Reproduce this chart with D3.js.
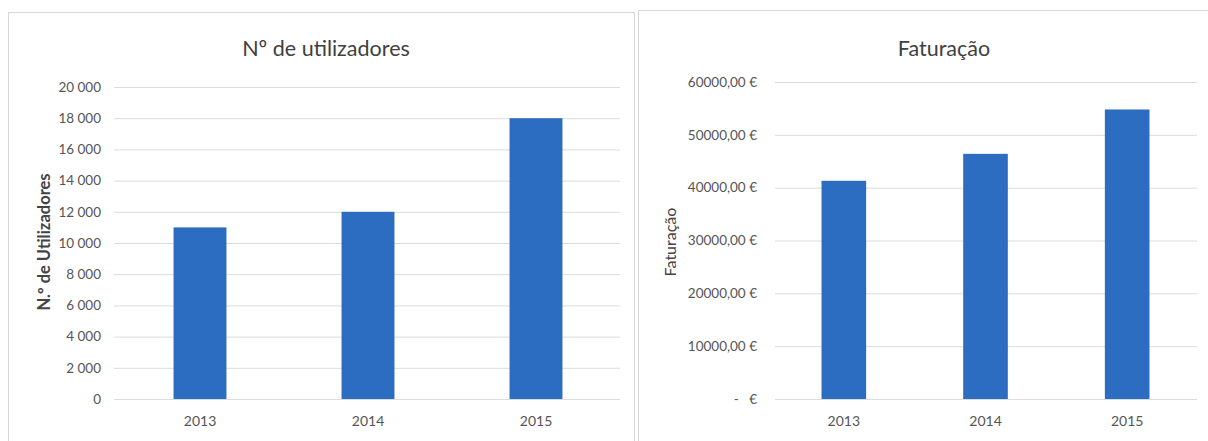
<!DOCTYPE html>
<html>
<head>
<meta charset="utf-8">
<script src="https://cdn.jsdelivr.net/npm/d3@7"></script>
<style>
  html, body { margin: 0; padding: 0; background: #fff; }
  svg { display: block; }
  text { font-family: Lato, "Open Sans", sans-serif; }
</style>
</head>
<body>
<svg id="chart" width="1208" height="441"></svg>
<script>
// Data
const years = ["2013", "2014", "2015"];
const users = [11000, 12000, 18000];
const revenue = [41300, 46400, 54800];
const userTicks = [0, 2000, 4000, 6000, 8000, 10000, 12000, 14000, 16000, 18000, 20000];
const revenueTicks = [0, 10000, 20000, 30000, 40000, 50000, 60000];

const svg = d3.select("#chart");
const barColor = "#2d6dc1";
const gridColor = "#dcdcdc";
const labelColor = "#555";

// Number formats (Portuguese style)
const fmtUsers = v => v === 0 ? "0" : d3.format(",")(v).replace(/,/g, " ");
const fmtEuro = v => v === 0 ? "-   \u20ac" : d3.format(".2f")(v).replace(".", ",") + " \u20ac";

function panel(cfg) {
  const g = svg.append("g");
  // chart frame
  g.append("rect")
    .attr("x", cfg.frame[0]).attr("y", cfg.frame[1])
    .attr("width", cfg.frame[2]).attr("height", cfg.frame[3])
    .attr("fill", "#fff").attr("stroke", "#d6d6d6").attr("stroke-width", 1);

  const x = d3.scaleBand().domain(years).range(cfg.xRange)
    .paddingInner(0.685).paddingOuter(0.3425);
  const y = d3.scaleLinear().domain([0, d3.max(cfg.ticks)]).range([399, cfg.yTop]);

  // gridlines
  g.append("g").selectAll("line").data(cfg.ticks).join("line")
    .attr("x1", cfg.gridX[0]).attr("x2", cfg.gridX[1])
    .attr("y1", d => y(d) + 0.5).attr("y2", d => y(d) + 0.5)
    .attr("stroke", gridColor).attr("stroke-width", 1);

  // y axis labels
  const yAxis = d3.axisLeft(y).tickValues(cfg.ticks).tickFormat(cfg.fmt).tickSize(0).tickPadding(0);
  const ya = g.append("g").attr("transform", `translate(${cfg.labelX},0)`).call(yAxis);
  ya.select(".domain").remove();
  ya.selectAll("text").attr("fill", labelColor).style("font-size", "13.5px")
    .style("font-family", "Lato, sans-serif").style("white-space", "pre");

  // bars
  g.append("g").selectAll("rect").data(cfg.values).join("rect")
    .attr("x", (d, i) => x(years[i]))
    .attr("width", x.bandwidth())
    .attr("y", d => y(d))
    .attr("height", d => y(0) - y(d))
    .attr("fill", barColor);

  // x axis labels
  const xAxis = d3.axisBottom(x).tickSize(0).tickPadding(0);
  const xa = g.append("g").attr("transform", "translate(0,416)").call(xAxis);
  xa.select(".domain").remove();
  xa.selectAll("text").attr("fill", labelColor).style("font-size", "14px")
    .style("font-family", "Lato, sans-serif");

  // title
  g.append("text")
    .attr("x", cfg.titleX).attr("y", 56)
    .attr("text-anchor", "middle")
    .attr("fill", "#404040")
    .style("font-size", "21.5px")
    .text(cfg.title);

  // y axis title
  g.append("text")
    .attr("transform", `translate(${cfg.yTitleX},${cfg.yTitleY}) rotate(-90)`)
    .attr("text-anchor", "middle")
    .attr("fill", "#444")
    .style("font-size", cfg.yTitleSize)
    .style("font-weight", cfg.yTitleWeight)
    .text(cfg.yTitle);
}

panel({
  frame: [8.5, 12.5, 626, 440],
  xRange: [116, 620],
  gridX: [114, 620],
  yTop: 87,
  ticks: userTicks,
  values: users,
  fmt: fmtUsers,
  labelX: 101,
  title: "Nº de utilizadores",
  titleX: 326,
  yTitle: "N.º de Utilizadores",
  yTitleX: 50,
  yTitleY: 242,
  yTitleSize: "16.5px",
  yTitleWeight: "bold"
});

panel({
  frame: [638.5, 10.5, 580, 440],
  xRange: [773, 1198],
  gridX: [775, 1197],
  yTop: 82,
  ticks: revenueTicks,
  values: revenue,
  fmt: fmtEuro,
  labelX: 757,
  title: "Faturação",
  titleX: 944,
  yTitle: "Faturação",
  yTitleX: 676,
  yTitleY: 242,
  yTitleSize: "16px",
  yTitleWeight: "normal"
});
</script>
</body>
</html>
